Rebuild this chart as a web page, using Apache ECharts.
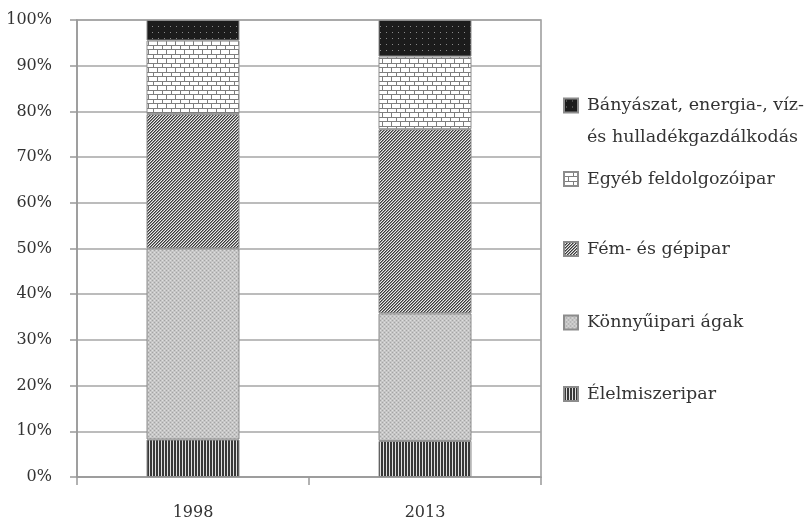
<!DOCTYPE html>
<html>
<head>
<meta charset="utf-8">
<script src="https://cdn.jsdelivr.net/npm/echarts@6/dist/echarts.min.js"></script>
<style>
  html, body { margin: 0; padding: 0; background: #fff; }
  #chart { width: 810px; height: 521px; }
</style>
</head>
<body>
<div id="chart"></div>
<script>
// kategóriák és adatok (%)
const years = ['1998', '2013']
const seriesNames = [
  'Élelmiszeripar',
  'Könnyűipari ágak',
  'Fém- és gépipar',
  'Egyéb feldolgozóipar',
  'Bányászat, energia-, víz- és hulladékgazdálkodás'
]
const elelmiszer = [8.2, 7.9]
const konnyuipar = [41.8, 27.9]
const femGep = [29.4, 40.3]
const egyeb = [16.1, 15.9]
const banyaszat = [4.5, 8.0]
const yTicks = ['0%', '10%', '20%', '30%', '40%', '50%', '60%', '70%', '80%', '90%', '100%']

const FONT = 'DejaVu Serif'

// mintázatok canvasra
function makePattern(w, h, draw) {
  const c = document.createElement('canvas')
  c.width = w
  c.height = h
  const ctx = c.getContext('2d')
  draw(ctx, w, h)
  return c
}

const patStripes = makePattern(3, 1, (ctx) => {
  ctx.fillStyle = '#e0e0e0'
  ctx.fillRect(0, 0, 3, 1)
  ctx.fillStyle = '#383838'
  ctx.fillRect(0, 0, 2, 1)
})

const patDots = makePattern(4, 4, (ctx) => {
  ctx.fillStyle = '#c6c6c6'
  ctx.fillRect(0, 0, 4, 4)
  ctx.fillStyle = '#a4a4a4'
  ctx.fillRect(0, 0, 1, 1)
  ctx.fillRect(2, 2, 1, 1)
  ctx.fillStyle = '#dedede'
  ctx.fillRect(2, 0, 1, 1)
  ctx.fillRect(0, 2, 1, 1)
})

const patDiag = makePattern(3, 3, (ctx) => {
  const shades = ['#3a3a3a', '#8a8a8a', '#ececec']
  for (let x = 0; x < 3; x++) {
    for (let y = 0; y < 3; y++) {
      ctx.fillStyle = shades[(x + y) % 3]
      ctx.fillRect(x, y, 1, 1)
    }
  }
})

const patBrick = makePattern(9, 9, (ctx) => {
  ctx.fillStyle = '#ffffff'
  ctx.fillRect(0, 0, 9, 9)
  ctx.fillStyle = '#7e7e7e'
  ctx.fillRect(0, 0, 9, 1)
  ctx.fillRect(0, 4, 9, 1)
  ctx.fillRect(0, 1, 1, 3)
  ctx.fillRect(4, 5, 1, 4)
})

const patDark = makePattern(6, 6, (ctx) => {
  ctx.fillStyle = '#1c1c1c'
  ctx.fillRect(0, 0, 6, 6)
  ctx.fillStyle = '#8a8a8a'
  ctx.fillRect(2, 2, 1, 1)
})

const patterns = [patStripes, patDots, patDiag, patBrick, patDark]
const values = [elelmiszer, konnyuipar, femGep, egyeb, banyaszat]

const chart = echarts.init(document.getElementById('chart'))

// egy-egy jelmagyarázat elemenként, a minta szerinti függőleges helyeken
const legendTops = [377.5, 306, 232.5, 162.5, 52.5]
const legends = seriesNames.map((name, i) => {
  const twoLines = i === 4
  return {
    data: [name],
    orient: 'vertical',
    left: 558,
    top: legendTops[i],
    icon: 'rect',
    itemWidth: 14,
    itemHeight: 14,
    itemGap: 0,
    selectedMode: false,
    // üres első sor: így az ikon az első szövegsorhoz igazodik
    formatter: (n) => twoLines ? '\n' + n.replace('víz- és', 'víz-\nés') : n,
    textStyle: {
      fontFamily: FONT,
      fontSize: 17.5,
      color: '#333',
      lineHeight: twoLines ? 32 : 23,
      padding: [0, 0, 0, 4]
    }
  }
})

chart.setOption({
  animation: false,
  grid: {
    left: 77, right: 269, top: 20, bottom: 44,
    show: true, borderColor: '#999', borderWidth: 1.5
  },
  legend: legends,
  xAxis: {
    type: 'category',
    data: years,
    axisLine: { lineStyle: { color: '#999', width: 1.5 } },
    axisTick: { show: true, length: 8, lineStyle: { color: '#999', width: 1.5 } },
    axisLabel: { fontFamily: FONT, fontSize: 16, color: '#333', margin: 28 }
  },
  yAxis: {
    type: 'value',
    min: 0,
    max: 100,
    interval: 10,
    axisLine: { show: true, lineStyle: { color: '#999', width: 1.5 } },
    axisTick: { show: true, length: 7, lineStyle: { color: '#999', width: 1.5 } },
    splitLine: { lineStyle: { color: '#a6a6a6', width: 1.5 } },
    axisLabel: {
      fontFamily: FONT,
      fontSize: 16,
      color: '#333',
      margin: 25,
      formatter: (v) => yTicks[Math.round(v / 10)]
    }
  },
  series: seriesNames.map((name, i) => ({
    name: name,
    type: 'bar',
    stack: 'total',
    barWidth: 93,
    data: values[i],
    itemStyle: {
      color: { image: patterns[i], repeat: 'repeat' },
      borderColor: '#8c8c8c',
      borderWidth: 1
    }
  }))
})
</script>
</body>
</html>
